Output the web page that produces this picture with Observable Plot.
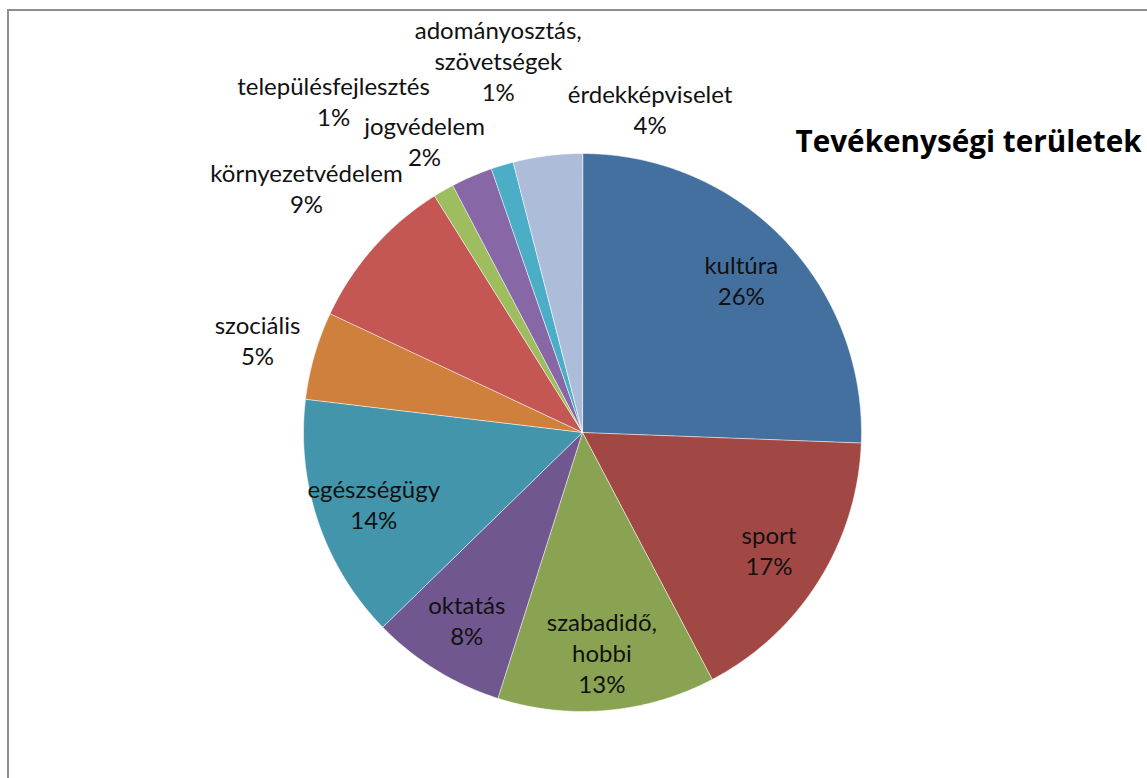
<!DOCTYPE html>
<html>
<head>
<meta charset="utf-8">
<script src="https://cdn.jsdelivr.net/npm/d3@7"></script>
<script src="https://cdn.jsdelivr.net/npm/@observablehq/plot@0.6"></script>
<style>
  html, body { margin: 0; padding: 0; background: #ffffff; overflow: hidden; }
  #wrap { position: relative; width: 1147px; height: 778px; overflow: hidden; }
  #wrap svg { position: absolute; left: 0; top: 0; }
  #border { position: absolute; left: 7px; top: 9px; width: 2000px; height: 2000px;
            border-left: 2px solid #8e8e8e; border-top: 2px solid #8e8e8e; pointer-events: none; z-index: 2; }
</style>
</head>
<body>
<div id="wrap"><div id="border"></div></div>
<script>
// ---------- data ----------
const categories = [
  "kultúra", "sport", "szabadidő, hobbi", "oktatás", "egészségügy", "szociális",
  "környezetvédelem", "településfejlesztés", "jogvédelem", "adományosztás, szövetségek", "érdekképviselet"
];
const shares = [25.6, 16.7, 12.6, 7.8, 14.2, 5.1, 9.1, 1.2, 2.4, 1.3, 4.0];
const colors = [
  "#44709f", "#a24844", "#8aa352", "#71578f", "#4395ab", "#cf803c",
  "#c45654", "#9dbd5e", "#8767a6", "#4badc6", "#adbdd9"
];
const title = "Tevékenységi területek";

// ---------- layout constants ----------
const W = 1147, H = 778;
const cx = 582, cy = 432, R = 279;
const fontFamily = "Lato, 'Open Sans', sans-serif";
const fontSize = 24, lineStep = 31;
const insideFrac = 0.79, gap = 18, pad = 2;

const ctx = document.createElement("canvas").getContext("2d");

// title size fitted to the reference title width
ctx.font = "bold 100px 'Open Sans'";
const titleSize = Math.round(100 * 346 / ctx.measureText(title).width * 10) / 10;
ctx.font = `bold ${titleSize}px 'Open Sans'`;
const titleW = ctx.measureText(title).width;
const titleX = 795, titleY = 142;

ctx.font = `${fontSize}px Lato`;

const pie = d3.pie().sort(null).value(d => d)(shares);

// slice outlines (unit circle coordinates)
const slicePts = [];
pie.forEach((p, i) => {
  const span = p.endAngle - p.startAngle;
  const n = Math.max(2, Math.ceil(span / (Math.PI / 360)));
  slicePts.push({cat: categories[i], x: 0, y: 0});
  for (let k = 0; k <= n; k++) {
    const a = p.startAngle + span * k / n;
    slicePts.push({cat: categories[i], x: Math.sin(a), y: Math.cos(a)});
  }
});

// labels
const labels = pie.map((p, i) => {
  const text = categories[i].replace(", ", ",\n") + "\n" + Math.round(shares[i]) + "%";
  const parts = text.split("\n");
  const lines = parts.map((l, j) => ({w: ctx.measureText(l).width, off: (j - (parts.length - 1) / 2) * lineStep}));
  const w = d3.max(lines, l => l.w);
  const mid = (p.startAngle + p.endAngle) / 2;
  const span = p.endAngle - p.startAngle;
  const chord = 2 * insideFrac * R * Math.sin(Math.min(span, Math.PI) / 2);
  return {i, text, lines, w, mid, inside: w + 8 <= chord};
});

function place(L, theta, extra) {
  const ux = Math.sin(theta), uy = -Math.cos(theta);
  let need = -Infinity;
  for (const ln of L.lines) {
    const e = Math.abs(ux) * ln.w / 2 + Math.abs(uy) * lineStep / 2 - ln.off * uy;
    if (e > need) need = e;
  }
  const d = R + gap + need + extra;
  const x = cx + ux * d, y = cy + uy * d;
  return {x, y, rects: L.lines.map(ln => ({x, y: y + ln.off, w: ln.w, h: lineStep}))};
}
function rectOverlap(a, b) {
  const ox = (a.w + b.w) / 2 + pad - Math.abs(a.x - b.x);
  const oy = (a.h + b.h) / 2 + pad - Math.abs(a.y - b.y);
  return ox > 0 && oy > 0 ? ox * oy : 0;
}
function overlapAll(A, rectsB) {
  let s = 0;
  for (const a of A) for (const b of rectsB) s += rectOverlap(a, b);
  return s;
}
function outOfBounds(rects) {
  let p = 0;
  for (const a of rects) {
    const l = a.x - a.w / 2, r = a.x + a.w / 2, t = a.y - a.h / 2, b = a.y + a.h / 2;
    if (l < 16) p += 16 - l;
    if (r > W - 6) p += r - (W - 6);
    if (t < 12) p += 12 - t;
    if (b > H - 6) p += b - (H - 6);
  }
  return p;
}

const titleRects = [{x: titleX + titleW / 2, y: titleY, w: titleW, h: 34}];

const outer = labels.filter(d => !d.inside);
outer.forEach(L => { L.dd = 0; L.ex = 0; L.theta = L.mid; L.pos = place(L, L.mid, 0); });
const deg = Math.PI / 180, wA = 1, wR = 0.2;
const visit = outer.slice().reverse();
for (let iter = 0; iter < 40; iter++) {
  let changed = false;
  for (const L of visit) {
    const k = outer.indexOf(L);
    const lo = k > 0 ? outer[k - 1].theta + deg : -Infinity;
    const hi = k < outer.length - 1 ? outer[k + 1].theta - deg : Infinity;
    let best = null, bestCost = Infinity;
    for (let dd = -45; dd <= 45; dd++) {
      const th = L.mid + dd * deg;
      if (th < lo || th > hi) continue;
      for (let ex = 0; ex <= 126; ex += 6) {
        const pos = place(L, th, ex);
        let c = wA * Math.abs(dd) + wR * ex + 1000 * outOfBounds(pos.rects) + overlapAll(pos.rects, titleRects);
        for (const O of outer) if (O !== L) c += overlapAll(pos.rects, O.pos.rects);
        if (c < bestCost - 1e-9) { bestCost = c; best = {dd, ex, theta: th, pos}; }
      }
    }
    if (best && (best.dd !== L.dd || best.ex !== L.ex)) { changed = true; Object.assign(L, best); }
  }
  if (!changed) break;
}

labels.forEach(L => {
  let px, py;
  if (L.inside) {
    px = cx + Math.sin(L.mid) * insideFrac * R;
    py = cy - Math.cos(L.mid) * insideFrac * R;
  } else {
    px = L.pos.x; py = L.pos.y;
  }
  L.x = (px - cx) / R;
  L.y = (cy - py) / R;
});

const chart = Plot.plot({
  width: W, height: H, margin: 0,
  style: {background: "transparent", fontFamily},
  x: {domain: [-1, 1], range: [cx - R, cx + R], axis: null},
  y: {domain: [-1, 1], range: [cy + R, cy - R], axis: null},
  color: {domain: categories, range: colors},
  marks: [
    Plot.line(slicePts, {x: "x", y: "y", z: "cat", fill: "cat", stroke: "#ffffff",
      strokeWidth: 1, strokeOpacity: 0.55, curve: "linear-closed"}),
    Plot.text(labels, {x: "x", y: "y", text: "text", fontSize, lineHeight: lineStep / fontSize,
      fill: "#111111", fontFamily}),
    Plot.text([title], {frameAnchor: "top-left", dx: titleX, dy: titleY, text: d => d, textAnchor: "start",
      lineAnchor: "middle", fontWeight: "bold", fontSize: titleSize, fill: "#000000", fontFamily: "'Open Sans', sans-serif"})
  ]
});
document.getElementById("wrap").appendChild(chart);
</script>
</body>
</html>
